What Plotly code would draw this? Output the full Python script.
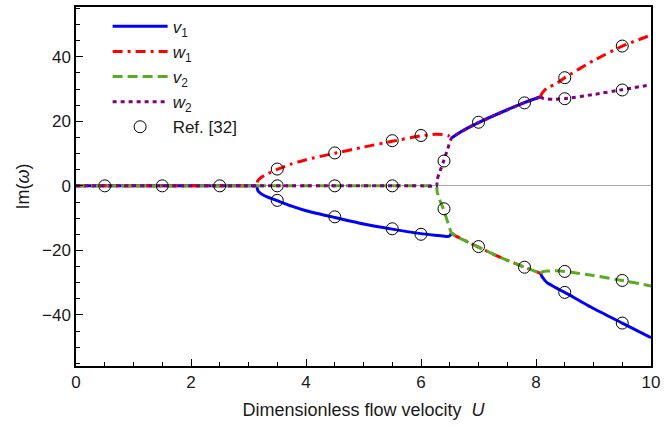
import plotly.graph_objects as go

# Imaginary part of the eigenfrequencies versus dimensionless flow velocity U.
# Branches are separated by None where a mode jumps between the upper and lower curves.

# mode v1
u_v1 = [0, 1.5, 3.0, 3.14, 3.16, 3.2, 3.27, 3.35, 3.5, 3.75, 4.0, 4.5, 5.0, 5.5, 6.0, 6.3, 6.45, 6.5, 6.53,
        None,
        6.53, 6.6, 6.8, 7.0, 7.4, 7.8, 8.08,
        None,
        8.08, 8.1, 8.15, 8.2, 8.35, 8.5, 9.0, 9.5, 10.0]
im_v1 = [0, 0, 0, 0, -1.4, -2.2, -3.0, -3.6, -4.6, -6.3, -7.7, -9.8, -11.8, -13.4, -14.8, -15.4, -15.7, -15.5, -14.6,
         None,
         14.8, 15.7, 17.8, 19.6, 22.8, 25.8, 27.6,
         None,
         -27.1, -28.0, -29.2, -30.1, -31.6, -33.0, -38.0, -42.5, -47.0]

# mode w1
u_w1 = [0, 1.5, 3.0, 3.14, 3.16, 3.2, 3.27, 3.35, 3.5, 3.75, 4.0, 4.5, 5.0, 5.5, 6.0, 6.25, 6.4, 6.48, 6.53,
        None,
        6.53, 6.6, 6.8, 7.0, 7.4, 7.8, 8.08,
        None,
        8.08, 8.1, 8.15, 8.2, 8.35, 8.5, 9.0, 9.5, 10.0]
im_w1 = [0, 0, 0, 0, 1.5, 2.3, 3.2, 3.9, 5.1, 6.8, 8.1, 10.1, 12.0, 13.8, 15.5, 16.0, 15.9, 15.5, 14.8,
         None,
         -14.6, -15.5, -17.3, -19.0, -22.3, -25.2, -27.1,
         None,
         27.6, 28.6, 29.6, 30.4, 31.6, 33.5, 38.8, 43.3, 46.7]

# mode v2
u_v2 = [0, 2.0, 4.0, 6.0, 6.27, 6.28, 6.31, 6.35, 6.39, 6.46, 6.53,
        6.6, 6.8, 7.0, 7.4, 7.8, 8.08,
        None,
        8.08, 8.12, 8.2, 8.3, 8.5, 9.0, 9.5, 10.0]
im_v2 = [0, 0, 0, 0, 0, -1.8, -3.6, -5.5, -7.2, -11.0, -14.6,
         -15.5, -17.3, -19.0, -22.3, -25.2, -27.1,
         None,
         -27.1, -26.6, -26.4, -26.3, -26.5, -27.8, -29.3, -31.0]

# mode w2
u_w2 = [0, 2.0, 4.0, 6.0, 6.27, 6.28, 6.31, 6.35, 6.39, 6.46, 6.53,
        6.6, 6.8, 7.0, 7.4, 7.8, 8.08,
        None,
        8.08, 8.12, 8.2, 8.3, 8.5, 9.0, 9.5, 10.0]
im_w2 = [0, 0, 0, 0, 0, 1.8, 3.6, 5.5, 7.5, 11.2, 14.8,
         15.7, 17.8, 19.6, 22.8, 25.8, 27.6,
         None,
         27.6, 27.1, 26.9, 26.8, 27.0, 28.3, 29.8, 31.3]

# reference solution, Ref. [32]
u_ref = [0.5, 1.5, 2.5, 3.5, 4.5, 5.5,
         3.5, 3.5, 4.5, 4.5, 5.5, 5.5, 6.0, 6.0, 6.4, 6.4,
         7.0, 7.0, 7.8, 7.8,
         8.5, 8.5, 8.5, 8.5, 9.5, 9.5, 9.5, 9.5]
im_ref = [0, 0, 0, 0, 0, 0,
          5.2, -4.5, 10.2, -9.6, 14.0, -13.3, 15.6, -15.0, 7.7, -7.1,
          19.7, -18.8, 25.7, -25.2,
          33.5, 27.0, -26.5, -33.0, 43.3, 29.7, -29.3, -42.5]

FONT = "Liberation Sans, Arial, sans-serif"
TXT = "#1a1a1a"
LW = 3

fig = go.Figure()
fig.add_trace(go.Scatter(x=u_v1, y=im_v1, mode="lines", name="<i>v</i><sub>1</sub>",
                         line=dict(color="#0000FF", width=LW, shape="spline", smoothing=0.5),
                         connectgaps=False))
fig.add_trace(go.Scatter(x=u_w1, y=im_w1, mode="lines", name="<i>w</i><sub>1</sub>",
                         line=dict(color="#FF0000", width=LW, dash="10px,5px,3px,5px",
                                   shape="spline", smoothing=0.5),
                         connectgaps=False))
fig.add_trace(go.Scatter(x=u_v2, y=im_v2, mode="lines", name="<i>v</i><sub>2</sub>",
                         line=dict(color="#5AAA23", width=LW, dash="10px,5px",
                                   shape="spline", smoothing=0.5),
                         connectgaps=False))
fig.add_trace(go.Scatter(x=u_w2, y=im_w2, mode="lines", name="<i>w</i><sub>2</sub>",
                         line=dict(color="#800080", width=LW, dash="4px,4px",
                                   shape="spline", smoothing=0.5),
                         connectgaps=False))
fig.add_trace(go.Scatter(x=u_ref, y=im_ref, mode="markers", name="Ref. [32]",
                         marker=dict(symbol="circle-open", size=12, color="black",
                                     line=dict(width=1, color="black"))))

axis_common = dict(
    showline=True, linecolor="black", linewidth=1.5, mirror=True,
    ticks="inside", ticklen=7, tickwidth=1.2, tickcolor="black",
    showgrid=False,
    tickfont=dict(family=FONT, size=17, color=TXT),
)

fig.update_xaxes(range=[0, 10], dtick=2, tick0=0,
                 minor=dict(dtick=0.5, ticks="inside", ticklen=4, tickcolor="black", tickwidth=1),
                 zeroline=False, ticklabeloverflow="allow",
                 title=dict(text="Dimensionless flow velocity  <i>U</i>",
                            font=dict(family=FONT, size=18, color=TXT), standoff=12),
                 **axis_common)
fig.update_yaxes(range=[-55.8, 55.4], dtick=20, tick0=0,
                 minor=dict(dtick=5, ticks="inside", ticklen=4, tickcolor="black", tickwidth=1),
                 zeroline=True, zerolinecolor="#A8A8A8", zerolinewidth=1.3,
                 title=dict(text="Im(<i>ω</i>)", font=dict(family=FONT, size=18, color=TXT),
                            standoff=8),
                 **axis_common)

fig.update_layout(
    width=665, height=427,
    margin=dict(l=76, r=10, t=5, b=61),
    plot_bgcolor="white", paper_bgcolor="white",
    font=dict(family=FONT, size=18, color=TXT),
    legend=dict(x=0.055, y=0.995, xanchor="left", yanchor="top",
                bgcolor="rgba(0,0,0,0)", font=dict(family=FONT, size=17, color=TXT),
                itemwidth=55, tracegroupgap=0),
    showlegend=True,
)

fig.write_html("out.html")
